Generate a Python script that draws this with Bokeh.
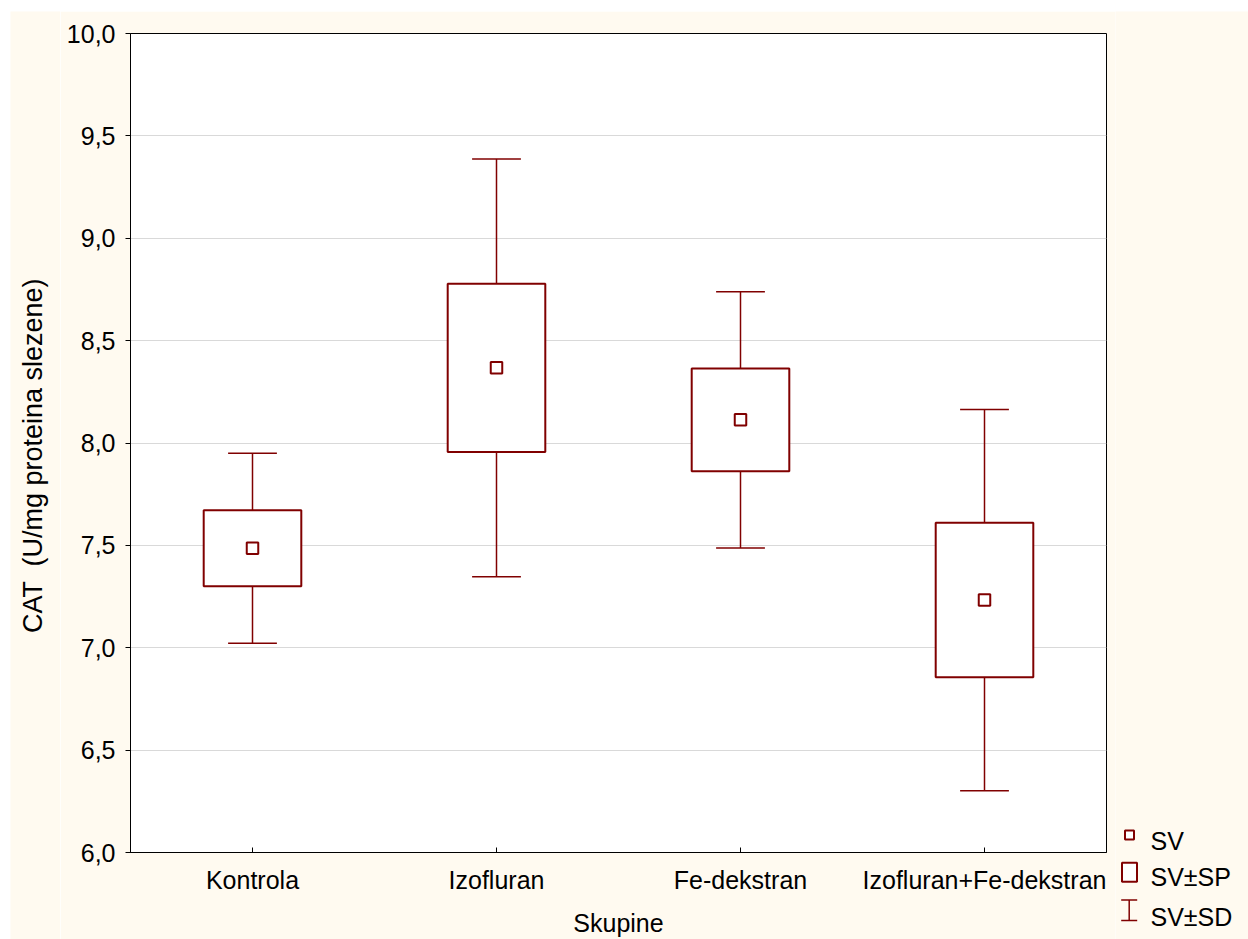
import math
from bokeh.plotting import figure
from bokeh.layouts import row
from bokeh.models import (ColumnDataSource, FactorRange, Range1d, FixedTicker,
                          CustomJSTickFormatter)
from bokeh.transform import dodge
from bokeh.core.properties import value
from bokeh.embed import file_html
from bokeh.resources import INLINE

# ---- data ----
groups = ["Kontrola", "Izofluran", "Fe-dekstran", "Izofluran+Fe-dekstran"]
means = [7.486, 8.367, 8.113, 7.233]
se = [0.186, 0.411, 0.251, 0.377]
sd = [0.464, 1.020, 0.626, 0.931]
y_ticks = [6.0, 6.5, 7.0, 7.5, 8.0, 8.5, 9.0, 9.5, 10.0]
legend_labels = ["SV", "SV\u00b1SP", "SV\u00b1SD"]
x_title = "Skupine"
y_title = "CAT  (U/mg proteina slezene)"

RED = "#800000"
BG = "#FFFAF0"
FONT = "Liberation Sans"
FS = "25px"

# page geometry (page pixels)
TOP, LEFT = 11, 10
H = 939 - TOP
X_LEFT_END = 60      # end of y-title strip
X_MAIN_END = 1115    # end of main figure
FRAME_L, FRAME_R, FRAME_T, FRAME_B = 130, 1106, 33, 852

src = ColumnDataSource(dict(
    g=groups,
    mean=means,
    box_lo=[m - s for m, s in zip(means, se)],
    box_hi=[m + s for m, s in zip(means, se)],
    sd_lo=[m - s for m, s in zip(means, sd)],
    sd_hi=[m + s for m, s in zip(means, sd)],
))


def blank(x0, x1):
    f = figure(width=x1 - x0, height=H, x_range=Range1d(x0, x1), y_range=Range1d(939, TOP),
               output_backend="svg", toolbar_location=None, x_axis_type=None, y_axis_type=None,
               min_border=0, min_border_left=0, min_border_right=0, min_border_top=0,
               min_border_bottom=0)
    f.frame_align = False
    f.grid.visible = False
    f.outline_line_color = None
    f.background_fill_color = BG
    f.border_fill_color = BG
    return f


# ---- y title strip ----
pl = blank(LEFT, X_LEFT_END)
pl.text(x=[32], y=[455], text=[y_title.replace("  ", " \u00a0")], angle=math.pi / 2,
        text_align="center", text_baseline="alphabetic", text_font=value(FONT),
        text_font_size="27px", text_color="black")

# ---- main plot ----
W = X_MAIN_END - X_LEFT_END
p = figure(width=W, height=H, x_range=FactorRange(*groups), y_range=Range1d(6.0, 10.0),
           output_backend="svg", toolbar_location=None,
           min_border_left=FRAME_L - X_LEFT_END, min_border_top=FRAME_T - TOP,
           min_border_right=X_MAIN_END - FRAME_R, min_border_bottom=939 - FRAME_B)
p.frame_align = False
p.background_fill_color = "white"
p.border_fill_color = BG
p.outline_line_color = "black"
p.outline_line_width = 1

p.xgrid.visible = False
p.ygrid.grid_line_color = "#d9d9d9"
p.ygrid.grid_line_width = 1.2

p.yaxis.ticker = FixedTicker(ticks=y_ticks)
p.yaxis.formatter = CustomJSTickFormatter(code="return tick.toFixed(1).replace('.', ',');")
p.yaxis.minor_tick_line_color = None
p.yaxis.major_tick_out = 5
p.yaxis.major_tick_in = 0
p.yaxis.major_label_standoff = 10
p.xaxis.major_tick_in = 5
p.xaxis.major_tick_out = 0
p.xaxis.major_label_standoff = 13
p.xaxis.axis_label = x_title
p.xaxis.axis_label_standoff = 12
p.xaxis.axis_label_text_font = FONT
p.xaxis.axis_label_text_font_size = FS
p.xaxis.axis_label_text_font_style = "normal"
p.xaxis.axis_label_text_color = "black"
for ax in (p.xaxis, p.yaxis):
    ax.axis_line_color = "black"
    ax.major_tick_line_color = "black"
    ax.major_label_text_font = FONT
    ax.major_label_text_font_size = FS
    ax.major_label_text_color = "black"

# whiskers (SD)
p.segment(x0="g", y0="box_hi", x1="g", y1="sd_hi", source=src, line_color=RED, line_width=1.5)
p.segment(x0="g", y0="box_lo", x1="g", y1="sd_lo", source=src, line_color=RED, line_width=1.5)
p.segment(x0=dodge("g", -0.1, range=p.x_range), y0="sd_hi",
          x1=dodge("g", 0.1, range=p.x_range), y1="sd_hi", source=src, line_color=RED, line_width=1.5)
p.segment(x0=dodge("g", -0.1, range=p.x_range), y0="sd_lo",
          x1=dodge("g", 0.1, range=p.x_range), y1="sd_lo", source=src, line_color=RED, line_width=1.5)
# SE boxes
p.vbar(x="g", width=0.4, bottom="box_lo", top="box_hi", source=src,
       fill_color="white", line_color=RED, line_width=2)
# means
p.scatter(x="g", y="mean", source=src, marker="square", size=11.5,
          fill_color="white", line_color=RED, line_width=2)

# ---- legend strip ----
pg = blank(X_MAIN_END, 1248)
pg.rect(x=[1129], y=[834.5], width=[9], height=[9], fill_color="white",
        line_color=RED, line_width=2)
pg.rect(x=[1129], y=[871.7], width=[15], height=[19], fill_color="white",
        line_color=RED, line_width=2)
pg.segment(x0=[1128.7, 1120.7, 1120.7], y0=[899.5, 899.5, 920],
           x1=[1128.7, 1136.7, 1136.7], y1=[920, 899.5, 920], line_color=RED, line_width=1.5)
pg.text(x=[1150, 1150, 1150], y=[840, 876.5, 916], text=legend_labels, text_align="left",
        text_baseline="alphabetic", text_font=value(FONT), text_font_size=FS,
        text_color="black")

page = row(pl, p, pg, spacing=0)
page.margin = (TOP, 0, 0, LEFT)

open("out.html", "w").write(file_html(page, INLINE))
